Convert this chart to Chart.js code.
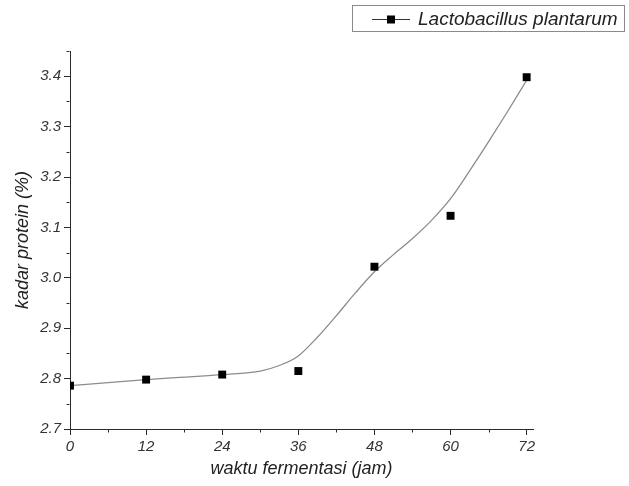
<!DOCTYPE html>
<html><head><meta charset="utf-8">
<script src="https://cdn.jsdelivr.net/npm/chart.js@4/dist/chart.umd.min.js"></script>
<style>html,body{margin:0;padding:0;background:#fff}canvas{display:block}</style>
</head><body>
<canvas id="c" width="629" height="486"></canvas>
<script>
const seriesName = 'Lactobacillus plantarum';
const xTitle = 'waktu fermentasi (jam)';
const yTitle = 'kadar protein (%)';
const waktu = [0, 12, 24, 36, 48, 60, 72];
const kadarProtein = [2.786, 2.798, 2.808, 2.815, 3.022, 3.123, 3.398];
// smoothed curve
const curveX = [0, 6, 12, 18, 24, 30, 33, 36, 39, 42, 45, 48, 51, 54, 57, 60, 63, 66, 69, 72];
const curveY = [2.786, 2.792, 2.798, 2.803, 2.808, 2.815, 2.826, 2.845, 2.882, 2.925, 2.970, 3.012, 3.046, 3.078, 3.114, 3.157, 3.212, 3.270, 3.330, 3.392];
const xTicks = [0, 12, 24, 36, 48, 60, 72];
const yTicks = [2.7, 2.8, 2.9, 3.0, 3.1, 3.2, 3.3, 3.4];

const FONT = '"Liberation Sans", Arial, sans-serif';
const AXIS = '#2a2a2a';

const minorTicks = {
  id: 'minorTicks',
  afterDraw(chart) {
    const ctx = chart.ctx;
    ctx.save();
    ctx.strokeStyle = AXIS;
    ctx.lineWidth = 1;
    const xs = chart.scales.x, ys = chart.scales.y;
    const xb = Math.round(ys.getPixelForValue(ys.min)) + 0.5;
    for (let i = 0; i < xTicks.length; i++) {
      const m = xTicks[i] + (xTicks[1] - xTicks[0]) / 2;
      if (m > xs.max) continue;
      const px = Math.round(xs.getPixelForValue(m)) + 0.5;
      ctx.beginPath(); ctx.moveTo(px, xb); ctx.lineTo(px, xb + 3); ctx.stroke();
    }
    const yl = Math.round(xs.getPixelForValue(xs.min)) - 0.5;
    for (let i = 0; i < yTicks.length; i++) {
      const m = yTicks[i] + (yTicks[1] - yTicks[0]) / 2;
      if (m > ys.max + 1e-9) continue;
      const py = Math.round(ys.getPixelForValue(m)) + 0.5;
      ctx.beginPath(); ctx.moveTo(yl, py); ctx.lineTo(yl - 3, py); ctx.stroke();
    }
    ctx.restore();
  }
};

const legendBox = {
  id: 'legendBox',
  afterDraw(chart) {
    const ctx = chart.ctx;
    ctx.save();
    ctx.strokeStyle = '#8a8a8a';
    ctx.lineWidth = 1;
    ctx.strokeRect(352.5, 5.5, 272, 26);
    ctx.strokeStyle = '#333';
    ctx.beginPath(); ctx.moveTo(372, 19.5); ctx.lineTo(410, 19.5); ctx.stroke();
    ctx.fillStyle = '#000';
    ctx.fillRect(387, 15.5, 8, 8);
    ctx.font = 'italic 19px ' + FONT;
    ctx.fillStyle = '#222';
    ctx.textBaseline = 'middle';
    ctx.textAlign = 'left';
    ctx.fillText(seriesName, 418, 19.5);
    ctx.restore();
  }
};

new Chart(document.getElementById('c'), {
  type: 'scatter',
  data: {
    datasets: [
      {
        label: 'curve',
        data: curveX.map((x, i) => ({x, y: curveY[i]})),
        showLine: true,
        borderColor: '#8c8c8c',
        borderWidth: 1.3,
        pointRadius: 0,
        cubicInterpolationMode: 'monotone',
        fill: false,
        order: 2
      },
      {
        label: seriesName,
        data: waktu.map((x, i) => ({x, y: kadarProtein[i]})),
        pointStyle: 'rect',
        pointRadius: 5.6,
        pointBackgroundColor: '#000',
        pointBorderWidth: 0,
        showLine: false,
        order: 1
      }
    ]
  },
  options: {
    responsive: false,
    animation: false,
    layout: {padding: {top: 51, right: 96, bottom: 0, left: 0}},
    plugins: {legend: {display: false}, tooltip: {enabled: false}},
    scales: {
      x: {
        type: 'linear', min: 0, max: 73,
        afterBuildTicks: s => { s.ticks = xTicks.map(v => ({value: v})); },
        afterFit: s => { s.height = 57; },
        border: {color: AXIS, width: 1},
        grid: {drawOnChartArea: false, drawTicks: true, tickLength: 6, tickColor: AXIS},
        ticks: {color: '#333', font: {family: FONT, size: 15, style: 'italic'}, padding: 3, maxRotation: 0,
          callback: v => String(v)},
        title: {display: true, text: xTitle, color: '#222', font: {family: FONT, size: 18, style: 'italic'}, padding: {top: 0, bottom: 6}}
      },
      y: {
        type: 'linear', min: 2.7, max: 3.45,
        afterBuildTicks: s => { s.ticks = yTicks.map(v => ({value: v})); },
        afterFit: s => { s.width = 70; },
        border: {color: AXIS, width: 1},
        grid: {drawOnChartArea: false, drawTicks: true, tickLength: 6, tickColor: AXIS},
        ticks: {color: '#333', font: {family: FONT, size: 15, style: 'italic'}, padding: 3,
          callback: v => Number(v).toFixed(1)},
        title: {display: true, text: yTitle, color: '#222', font: {family: FONT, size: 18, style: 'italic'}, padding: {top: 12, bottom: 0}}
      }
    }
  },
  plugins: [minorTicks, legendBox]
});
</script>
</body></html>
